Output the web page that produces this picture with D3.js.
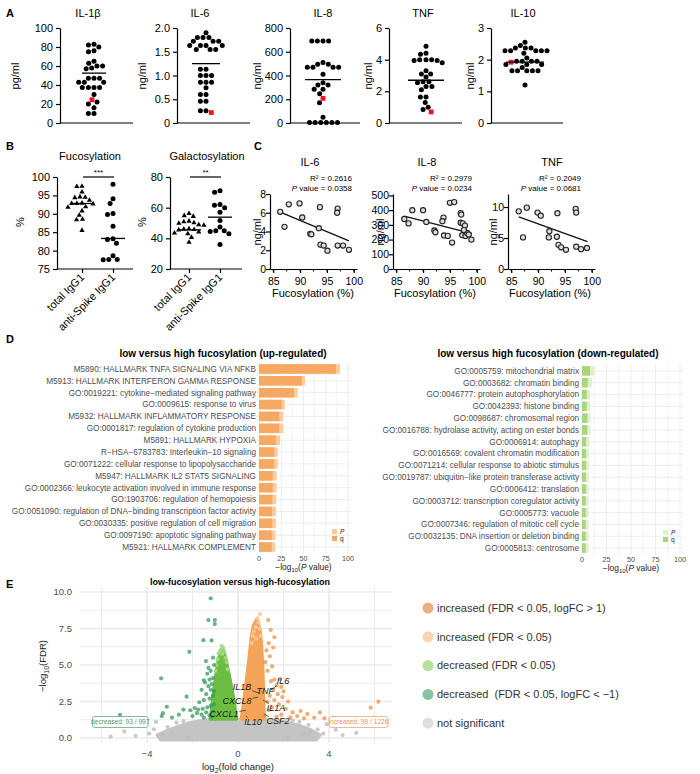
<!DOCTYPE html>
<html><head><meta charset="utf-8">
<script src="https://cdn.jsdelivr.net/npm/d3@7"></script>
<style>
body{margin:0;background:#fff}
svg{font-family:"Liberation Sans",Arial,sans-serif}
.pre{white-space:pre}
</style>
</head><body>
<svg id="c" width="700" height="774"></svg>
<script>
// ---------------- Panel A data ----------------
const aTitles = ["IL-1β","IL-6","IL-8","TNF","IL-10"];
const aUnits = ["pg/ml","ng/ml","ng/ml","ng/ml","ng/ml"];
const aMax = [100,2,800,6,3];
const aTicks = [[0,20,40,60,80,100],[0,0.5,1,1.5,2],[0,200,400,600,800],[0,2,4,6],[0,1,2,3]];
const aTickLabels = [["0","20","40","60","80","100"],["0","0.5","1.0","1.5","2.0"],["0","200","400","600","800"],["0","2","4","6"],["0","1","2","3"]];
const il1b = [83,82,80,76,75,65,63,60,60,58,57,47,47,47,43,43,43,37.5,37.5,37.5,37.5,30,22,20,16,10,10];
const il6 = [1.9,1.8,1.8,1.8,1.72,1.72,1.72,1.63,1.63,1.63,1.63,1.55,1.55,1.55,1.13,1.13,1.0,1.0,1.0,0.86,0.86,0.86,0.74,0.6,0.6,0.46,0.46,0.26,0.26];
const il8 = [690,690,690,690,510,495,495,470,470,470,470,410,340,320,320,285,285,247,170,48,5,5,5,5,5,5];
const tnf = [4.85,4.4,4.35,4.0,4.0,4.0,3.95,3.95,3.8,3.3,3.1,3.1,2.9,2.6,2.6,2.55,2.3,2.3,2.1,1.65,1.65,1.3,1.0,0.85];
const il10 = [2.55,2.45,2.37,2.37,2.37,2.28,2.28,2.28,2.28,2.28,2.2,2.05,1.95,1.95,1.95,1.95,1.85,1.85,1.85,1.75,1.65,1.65,1.65,1.65,1.65,1.2];
const aValues = [il1b, il6, il8, tnf, il10];
const aMeans = [52.5,1.25,365,2.7,1.92];
const aRed = [24.5,0.22,207,0.7,1.92];

// ---------------- Panel B data ----------------
const bTitles = ["Fucosylation","Galactosylation"];
const bGroups = ["total IgG1","anti-Spike IgG1"];
const bDomains = [[75,100],[20,80]];
const bTicks = [[75,80,85,90,95,100],[20,40,60,80]];
const bFucTotal = [97.5,97.4,95.9,94.6,94.5,94.4,93.7,92.8,92.8,92.7,92.9,91.9,91.8,90.8,89.6,88.5,88.4,85.5];
const bFucSpike = [98,94.1,92.8,90.1,89.8,86.6,83.2,83.0,82.0,78.6,77.5,77.6,77.6];
const bGalTotal = [56.2,54.8,54.3,51.2,50.8,50.2,49.8,48.8,48.5,46.3,46.0,45.8,45.5,44.2,43.5,43.0,40.6,37.4];
const bGalSpike = [71,70,62,61.5,60,57,51.7,47.4,45,45,44.5,43,36];
const bLines = [[92.8,83.3],[45.5,53.8]];
const bSig = ["***","**"];

// ---------------- Panel C data ----------------
const cTitles = ["IL-6","IL-8","TNF"];
const cR2 = ["0.2616","0.2979","0.2049"];
const cP = ["0.0358","0.0234","0.0681"];
const cYMax = [8,510,12.1];
const cYTicks = [[0,2,4,6,8],[0,100,200,300,400,500],[0,5,10]];
const cXTicks = [85,90,95,100];
const cIL6 = [[86.3,6.1],[87.1,4.5],[87.9,6.9],[89.9,7.0],[90.4,5.5],[91.9,3.75],[92.1,3.7],[93.7,6.6],[93.5,4.35],[93.8,2.6],[94.4,2.5],[95.1,1.95],[97.0,6.45],[96.9,6.0],[97.0,2.5],[98.0,2.5],[99.1,2.05]];
const cIL8 = [[86.5,340],[87.3,310],[88.0,400],[90.0,400],[90.6,320],[92.1,262],[92.3,250],[93.8,350],[93.6,325],[93.9,228],[94.6,225],[95.0,450],[95.8,455],[95.4,180],[97.0,380],[97.1,370],[97.0,315],[97.4,310],[97.3,230],[97.8,295],[97.9,225],[98.2,245],[98.5,235],[99.0,200],[97.6,265]];
const cTNF = [[86.4,9.3],[87.2,5.1],[87.9,9.9],[89.9,9.1],[90.5,8.6],[92.1,6.1],[92.0,5.1],[93.6,9.0],[93.5,5.2],[93.8,3.9],[94.3,3.5],[95.2,3.1],[97.0,9.7],[97.1,9.1],[97.1,3.6],[98.0,3.2],[99.1,3.4]];
const cData = [cIL6, cIL8, cTNF];
const cLines = [[[86.2,6.1],[99.1,3.0]],[[86.5,360],[99.1,240]],[[86.4,8.4],[99.2,4.4]]];

// ---------------- Panel D data ----------------
const dTitles = ["low versus high fucosylation (up-regulated)","low versus high fucosylation (down-regulated)"];
const dUpTerms = ["M5890: HALLMARK TNFA SIGNALING VIA NFKB","M5913: HALLMARK INTERFERON GAMMA RESPONSE","GO:0019221: cytokine−mediated signaling pathway","GO:0009615: response to virus","M5932: HALLMARK INFLAMMATORY RESPONSE","GO:0001817: regulation of cytokine production","M5891: HALLMARK HYPOXIA","R−HSA−6783783: Interleukin−10 signaling","GO:0071222: cellular response to lipopolysaccharide","M5947: HALLMARK IL2 STAT5 SIGNALING","GO:0002366: leukocyte activation involved in immune response","GO:1903706: regulation of hemopoiesis","GO:0051090: regulation of DNA−binding transcription factor activity","GO:0030335: positive regulation of cell migration","GO:0097190: apoptotic signaling pathway","M5921: HALLMARK COMPLEMENT"];
const dUpP = [91,51.7,43.5,29,27.3,27.3,23.6,21,21,19.8,19.8,19.4,19,19,18.5,18.3];
const dUpQ = [86.5,48,39.3,25.5,22.8,22.8,19,16.9,17,15.3,15.3,15,14.8,14.8,14.4,14.4];
const dDownTerms = ["GO:0005759: mitochondrial matrix","GO:0003682: chromatin binding","GO:0046777: protein autophosphorylation","GO:0042393: histone binding","GO:0098687: chromosomal region","GO:0016788: hydrolase activity, acting on ester bonds","GO:0006914: autophagy","GO:0016569: covalent chromatin modification","GO:0071214: cellular response to abiotic stimulus","GO:0019787: ubiquitin−like protein transferase activity","GO:0006412: translation","GO:0003712: transcription coregulator activity","GO:0005773: vacuole","GO:0007346: regulation of mitotic cell cycle","GO:0032135: DNA insertion or deletion binding","GO:0005813: centrosome"];
const dDownP = [13,9.9,8.2,8.2,8.8,8.8,7.5,7,7,7,7,6.8,6.8,6.8,6.8,6.8];
const dDownQ = [8.2,5.8,4.8,4.8,5.4,5.4,4.1,4,4,4,4,3.8,3.8,3.8,3.8,3.8];
const dXTicks = [0,25,50,75,100];
const dLegend = ["P","q"];

// ---------------- Panel E data ----------------
const eTitle = "low-fucosylation versus high-fucosylation";
const eXTicks = [-4,0,4];
const eYTicks = [0,2.5,5,7.5,10];
const eYTickLabels = ["0.0","2.5","5.0","7.5","10.0"];
const eGreyCloud = [[-3.4,-0.12],[-3.55,0.2],[-3.1,0.5],[-2.6,0.8],[-2.1,1.05],[-1.5,1.22],[-0.1,1.3],[0,0.35],[0.1,1.3],[1.5,1.26],[2.1,1.1],[2.7,0.85],[3.2,0.55],[3.6,0.2],[3.45,-0.12]];
const eGreenCloud = [[-1.22,1.3],[-1.12,2.5],[-1.05,3.4],[-0.95,4.5],[-0.85,5.4],[-0.75,6.0],[-0.68,6.1],[-0.57,5.6],[-0.43,4.6],[-0.3,3.6],[-0.18,2.6],[-0.07,1.3]];
const eOrangeCloud = [[0.15,1.3],[0.28,2.8],[0.4,4.3],[0.5,5.6],[0.58,6.8],[0.68,7.7],[0.82,8.1],[0.95,7.5],[1.02,6.6],[1.08,5.0],[1.12,3.0],[1.15,1.3]];
const eGrey = [[-4.16,0.94],[-3.7,0.6],[-3.9,0.3],[-4.5,0.15],[-5.0,0.45],[-3.3,0.2],[-3.1,0.75],[-2.7,1.05],[-2.4,1.15],[3.1,0.9],[3.16,0.43],[3.5,0.6],[3.75,0.3],[4.3,0.55],[4.6,0.2],[3.9,0.95],[2.7,1.1],[-5.6,0.1],[5.2,0.35],[-3.6,1.1],[2.4,1.2],[-2.2,0.05],[2.2,0.05],[-2.9,0.35],[2.9,0.3]];
const eDarkGreen = [[-1.2,9.57],[-1.3,8.08],[-1.02,8.08],[-1.02,7.8],[-1.52,6.7],[-1.16,6.68],[-2.14,5.9],[-3.38,4.09],[-1.41,5.27],[-1.35,4.4],[-1.25,4.0],[-1.1,4.1],[-1.5,3.95],[-1.45,3.8],[-1.15,3.7],[-1.3,3.55],[-1.2,3.3],[-1.05,3.2],[-1.4,3.0],[-1.6,3.3],[-1.1,2.9],[-1.25,2.7],[-1.5,2.6],[-1.7,2.45],[-2.26,2.83],[-3.13,2.14],[-3.3,1.7],[-3.35,1.5],[-5.19,1.58],[-2.4,1.95],[-2.1,1.9],[-1.9,2.05],[-1.75,1.95],[-1.55,2.0],[-1.35,2.1],[-1.2,2.2],[-1.05,2.3],[-1.8,1.7],[-1.6,1.6],[-1.4,1.75],[-1.25,1.55],[-1.1,1.8],[-2.6,1.6],[-2.0,1.5],[-1.5,1.4],[-1.15,1.45],[-2.9,1.4],[-1.05,5.0],[-1.1,5.5],[-1.3,4.8],[-1.2,4.6]];
const eLightGreen = [[-0.72,6.3],[-0.65,6.15],[-0.78,6.0],[-0.6,5.9],[-0.85,5.8],[-0.7,5.75],[-0.55,5.5],[-0.9,5.4],[-0.5,5.2],[-0.95,5.0],[-0.98,4.6],[-0.45,4.7]];
const eLightOrange = [[0.97,8.49],[0.85,8.2],[0.9,7.9],[0.78,7.6],[0.95,7.5],[0.7,7.3],[1.0,7.0],[0.65,7.0],[0.8,6.8],[0.6,6.5]];
const eDarkOrange = [[1.33,8.08],[1.44,7.4],[1.6,6.9],[1.35,6.5],[1.55,6.2],[1.25,6.0],[1.4,5.6],[1.2,5.2],[1.5,4.9],[1.3,4.6],[1.85,4.04],[1.6,4.0],[1.45,3.9],[1.7,3.6],[1.9,3.5],[1.55,3.3],[2.0,3.2],[1.75,3.0],[1.4,2.9],[1.95,2.8],[1.6,2.6],[1.3,2.5],[2.2,2.5],[1.8,2.3],[1.5,2.1],[2.1,2.0],[1.35,1.9],[2.4,1.75],[2.75,1.85],[3.05,1.65],[3.6,1.75],[3.35,1.4],[2.6,1.5],[2.9,1.35],[1.9,1.6],[1.15,1.5],[1.7,1.45],[2.3,1.4],[6.17,2.49],[5.83,2.08],[3.8,1.35],[4.2,1.4]];
const eGenes = ["IL1B","TNF","IL6","CXCL8","IL1A","CXCL1","IL10","CSF2"];
const eGenePoint = [[0.95,3.05],[1.0,3.0],[1.45,3.3],[0.88,2.8],[1.1,2.6],[0.35,1.9],[0.35,1.5],[1.14,1.64]];
const eGeneLabel = [[0.18,3.5],[1.2,3.2],[1.98,3.9],[-0.04,2.53],[1.67,2.05],[-0.62,1.64],[0.66,1.1],[1.76,1.16]];
const eCounts = ["decreased: 93 / 997","increased: 99 / 1226"];
const eLegend = ["increased (FDR < 0.05, logFC > 1)","increased (FDR < 0.05)","decreased (FDR < 0.05)","decreased  (FDR < 0.05, logFC < −1)","not significant"];
const eLegendColors = ["#efae82","#f9d4b1","#b8df9c","#86c3a0","#dedede"];

// ================= drawing =================
const svg = d3.select("#c");
svg.append("rect").attr("width",700).attr("height",774).attr("fill","#fff");

function letter(t,x,y){svg.append("text").attr("x",x).attr("y",y).attr("font-size",11).attr("font-weight","bold").text(t);}
letter("A",6,17); letter("B",6,150); letter("C",254,150); letter("D",6,343); letter("E",6,588);

// tight beeswarm layout
function swarm(items, yfn, cx, sep){
  const placed=[]; const order=items.map((d,i)=>i).sort((a,b)=>items[b].v-items[a].v);
  for(const i of order){
    const py=yfn(items[i].v);
    const iv=placed.filter(p=>Math.abs(p.y-py)<sep).map(p=>{const w=Math.sqrt(sep*sep-(p.y-py)**2);return [p.x-w,p.x+w];});
    const cands=[cx].concat(iv.flatMap(d=>d));
    let best=null;
    cands.forEach(c=>{
      if(iv.every(d=>c<=d[0]+1e-6||c>=d[1]-1e-6)){ if(best===null||Math.abs(c-cx)<Math.abs(best-cx)) best=c; }
    });
    items[i].x=best; items[i].y=py; placed.push({x:best,y:py});
  }
  return items;
}
function styleAxis(g,fs){
  g.selectAll(".domain").attr("stroke","#000").attr("stroke-width",1.2);
  g.selectAll(".tick line").attr("stroke","#000").attr("stroke-width",1.2);
  g.selectAll(".tick text").attr("font-size",fs).attr("fill","#000").attr("font-family","Liberation Sans, Arial, sans-serif");
}

// ---- Panel A
const aL = {axisX:[60,177,290,389,491],center:[94,206,323,426,525],xEnd:[133,250,360,462,563],titleX:[88,200,323,423,523],unitX:[15,142,257,368,470],meanHalf:[12,14,18,18,19]};
aTitles.forEach((t,p)=>{
  const y=d3.scaleLinear().domain([0,aMax[p]]).range([123,28]);
  const g=svg.append("g").attr("transform",`translate(${aL.axisX[p]},0)`)
    .call(d3.axisLeft(y).tickValues(aTicks[p]).tickFormat((d,i)=>aTickLabels[p][i]).tickSize(4).tickSizeOuter(0));
  styleAxis(g,11);
  svg.append("line").attr("x1",aL.axisX[p]).attr("x2",aL.xEnd[p]).attr("y1",123).attr("y2",123).attr("stroke","#000").attr("stroke-width",1.2);
  svg.append("text").attr("x",aL.titleX[p]).attr("y",17).attr("text-anchor","middle").attr("font-size",11).text(t);
  svg.append("text").attr("transform",`translate(${aL.unitX[p]},76) rotate(-90)`).attr("text-anchor","middle").attr("dominant-baseline","central").attr("font-size",11).text(aUnits[p]);
  const items=aValues[p].map(v=>({v,red:false})).concat([{v:aRed[p],red:true}]);
  swarm(items,y,aL.center[p],5.6);
  svg.append("g").selectAll("circle").data(items.filter(d=>!d.red)).join("circle")
    .attr("cx",d=>d.x).attr("cy",d=>d.y).attr("r",2.5).attr("fill","#000");
  svg.append("g").selectAll("rect").data(items.filter(d=>d.red)).join("rect")
    .attr("x",d=>d.x-2.4).attr("y",d=>d.y-2.4).attr("width",4.8).attr("height",4.8).attr("fill","#f0141e");
  svg.append("line").attr("x1",aL.center[p]-aL.meanHalf[p]).attr("x2",aL.center[p]+aL.meanHalf[p])
    .attr("y1",y(aMeans[p])).attr("y2",y(aMeans[p])).attr("stroke","#000").attr("stroke-width",1.3);
});

// ---- Panel B
const bL = {axisX:[57,170],xEnd:[133,242],tick:[[82,113],[189,220]],titleX:[90,207],unitX:[20,142]};
const bData=[[bFucTotal,bFucSpike],[bGalTotal,bGalSpike]];
bTitles.forEach((t,p)=>{
  const y=d3.scaleLinear().domain(bDomains[p]).range([269,177]);
  const g=svg.append("g").attr("transform",`translate(${bL.axisX[p]},0)`)
    .call(d3.axisLeft(y).tickValues(bTicks[p]).tickSize(4).tickSizeOuter(0));
  styleAxis(g,11);
  const xg=svg.append("g").attr("transform","translate(0,269)")
    .call(d3.axisBottom(d3.scaleOrdinal().domain(bGroups).range(bL.tick[p])).tickSize(4).tickFormat(""));
  svg.append("line").attr("x1",bL.axisX[p]).attr("x2",bL.xEnd[p]).attr("y1",269).attr("y2",269).attr("stroke","#000").attr("stroke-width",1.2);
  xg.selectAll(".domain").remove(); styleAxis(xg,11);
  bGroups.forEach((gname,k)=>{
    svg.append("text").attr("transform",`translate(${bL.tick[p][k]+3},278) rotate(-45)`).attr("text-anchor","end").attr("font-size",11).text(gname);
  });
  svg.append("text").attr("x",bL.titleX[p]).attr("y",160).attr("text-anchor","middle").attr("font-size",11).text(t);
  svg.append("text").attr("transform",`translate(${bL.unitX[p]},222) rotate(-90)`).attr("text-anchor","middle").attr("dominant-baseline","central").attr("font-size",11).text("%");
  svg.append("line").attr("x1",bL.tick[p][0]+1).attr("x2",bL.tick[p][1]+1).attr("y1",177).attr("y2",177).attr("stroke","#000").attr("stroke-width",1.2);
  svg.append("text").attr("x",(bL.tick[p][0]+bL.tick[p][1])/2+1).attr("y",175).attr("text-anchor","middle").attr("font-size",8).text(bSig[p]);
  const tri=swarm(bData[p][0].map(v=>({v})),y,bL.tick[p][0],5.2);
  svg.append("g").selectAll("path").data(tri).join("path")
    .attr("d",d3.symbol(d3.symbolTriangle,12)).attr("transform",d=>`translate(${d.x},${d.y})`).attr("fill","#000");
  const cir=swarm(bData[p][1].map(v=>({v})),y,bL.tick[p][1],5.6);
  svg.append("g").selectAll("circle").data(cir).join("circle").attr("cx",d=>d.x).attr("cy",d=>d.y).attr("r",2.5).attr("fill","#000");
  bLines[p].forEach((m,k)=>{
    svg.append("line").attr("x1",bL.tick[p][k]-12).attr("x2",bL.tick[p][k]+12).attr("y1",y(m)).attr("y2",y(m)).attr("stroke","#000").attr("stroke-width",1.3);
  });
});

// ---- Panel C
const cL = {axisX:[270,393,508],titleX:[310,427,552],statX:[352,472,581],unitX:[257,380,493],xTitleX:[313,435,550]};
cTitles.forEach((t,p)=>{
  const x=d3.scaleLinear().domain([84.4,100.6]).range([cL.axisX[p],cL.axisX[p]+87]);
  const y=d3.scaleLinear().domain([0,cYMax[p]]).range([269,194]);
  const gy=svg.append("g").attr("transform",`translate(${cL.axisX[p]},0)`)
    .call(d3.axisLeft(y).tickValues(cYTicks[p]).tickSize(4).tickSizeOuter(0));
  styleAxis(gy,10.5);
  gy.selectAll(".tick text").attr("x",-4);
  const gx=svg.append("g").attr("transform","translate(0,269)")
    .call(d3.axisBottom(x).tickValues(cXTicks).tickSize(4).tickSizeOuter(0));
  styleAxis(gx,10.5);
  gx.selectAll(".tick text").attr("dy","0.9em");
  svg.append("g").selectAll("line").data(d3.range(85,101,2.5)).join("line")
    .attr("x1",d=>x(d)).attr("x2",d=>x(d)).attr("y1",269).attr("y2",271.5).attr("stroke","#000").attr("stroke-width",1);
  svg.append("text").attr("x",cL.titleX[p]).attr("y",166).attr("text-anchor","middle").attr("font-size",11).text(t);
  svg.append("text").attr("x",cL.statX[p]).attr("y",181).attr("text-anchor","end").attr("font-size",8).text(`R² = ${cR2[p]}`);
  const pt=svg.append("text").attr("x",cL.statX[p]).attr("y",191).attr("text-anchor","end").attr("font-size",8);
  pt.append("tspan").attr("font-style","italic").text("P");
  pt.append("tspan").text(` value = ${cP[p]}`);
  svg.append("text").attr("transform",`translate(${cL.unitX[p]},232) rotate(-90)`).attr("text-anchor","middle").attr("dominant-baseline","central").attr("font-size",11).text("ng/ml");
  svg.append("text").attr("x",cL.xTitleX[p]).attr("y",297).attr("text-anchor","middle").attr("font-size",11).text("Fucosylation (%)");
  const ln=cLines[p];
  svg.append("line").attr("x1",x(ln[0][0])).attr("y1",y(ln[0][1])).attr("x2",x(ln[1][0])).attr("y2",y(ln[1][1])).attr("stroke","#111").attr("stroke-width",1.3);
  svg.append("g").selectAll("circle").data(cData[p]).join("circle")
    .attr("cx",d=>x(d[0])).attr("cy",d=>y(d[1])).attr("r",2.6).attr("fill","#ddd").attr("stroke","#222").attr("stroke-width",1.1);
});

// ---- Panel D
function enrich(terms,P,Q,opts){
  const x=d3.scaleLinear().domain([0,100]).range([opts.x0,opts.x1]);
  const yb=d3.scaleBand().domain(terms).range([opts.y0,opts.y1]).paddingInner(0.2).paddingOuter(0.1);
  const g=svg.append("g");
  const gx0=opts.x0-3, gx1=opts.x1+3;
  d3.range(0,101,12.5).forEach(v=>{
    g.append("line").attr("x1",x(v)).attr("x2",x(v)).attr("y1",opts.y0-1).attr("y2",opts.y1+1)
      .attr("stroke","#ebebeb").attr("stroke-width",v%25===0?0.9:0.6);
  });
  terms.forEach(t=>{
    g.append("line").attr("x1",gx0).attr("x2",gx1).attr("y1",yb(t)+yb.bandwidth()/2).attr("y2",yb(t)+yb.bandwidth()/2)
      .attr("stroke","#ebebeb").attr("stroke-width",0.9);
  });
  g.selectAll(".pb").data(terms).join("rect").attr("class","pb")
    .attr("x",x(0)).attr("y",t=>yb(t)).attr("height",yb.bandwidth()).attr("width",(t,i)=>x(P[i])-x(0)).attr("fill",opts.cP);
  g.selectAll(".qb").data(terms).join("rect").attr("class","qb")
    .attr("x",x(0)).attr("y",t=>yb(t)).attr("height",yb.bandwidth()).attr("width",(t,i)=>x(Q[i])-x(0)).attr("fill",opts.cQ);
  g.selectAll(".lab").data(terms).join("text").attr("class","lab")
    .attr("x",opts.x0-3).attr("y",t=>yb(t)+yb.bandwidth()/2).attr("dy","0.35em").attr("text-anchor","end")
    .attr("font-size",8.2).attr("fill","#4d4d4d").text(t=>t);
  g.selectAll(".xt").data(dXTicks).join("text").attr("class","xt")
    .attr("x",d=>x(d)).attr("y",opts.y1+8).attr("text-anchor","middle").attr("font-size",7.2).attr("fill","#4d4d4d").text(d=>d);
  const xt=g.append("text").attr("x",x(50)).attr("y",opts.y1+17).attr("text-anchor","middle").attr("font-size",8.4).attr("fill","#222");
  xt.append("tspan").text("−log");
  xt.append("tspan").attr("font-size",6).attr("dy",2).text("10");
  xt.append("tspan").attr("dy",-2).text("(");
  xt.append("tspan").attr("font-style","italic").text("P");
  xt.append("tspan").text(" value)");
  g.append("text").attr("x",opts.titleX).attr("y",357).attr("text-anchor","middle").attr("font-size",10).attr("font-weight","bold").text(opts.title);
  dLegend.forEach((l,i)=>{
    g.append("rect").attr("x",opts.legX).attr("y",opts.legY+i*7).attr("width",5).attr("height",5).attr("fill",i===0?opts.cP:opts.cQ);
    g.append("text").attr("x",opts.legX+8).attr("y",opts.legY+i*7+4.5).attr("font-size",6.5).attr("fill","#222").attr("font-style",i===0?"italic":"normal").text(l);
  });
}
enrich(dUpTerms,dUpP,dUpQ,{x0:259,x1:348,y0:363,y1:553,cP:"#fbcb9b",cQ:"#f7a862",title:dTitles[0],titleX:223,legX:332,legY:529});
enrich(dDownTerms,dDownP,dDownQ,{x0:582,x1:680,y0:365,y1:554,cP:"#dff0cf",cQ:"#a9d57f",title:dTitles[1],titleX:548,legX:663,legY:530});

// ---- Panel E
const ex=d3.scaleLinear().domain([-4,4]).range([147,329]);
const ey=d3.scaleLinear().domain([0,10]).range([738,592]);
const eg=svg.append("g");
[-6,-4,-2,0,2,4,6].forEach(v=>{
  eg.append("line").attr("x1",ex(v)).attr("x2",ex(v)).attr("y1",587).attr("y2",743).attr("stroke","#ebebeb").attr("stroke-width",v%4===0?1.7:1.1);
});
d3.range(0,10.01,1.25).forEach(v=>{
  eg.append("line").attr("x1",80).attr("x2",392).attr("y1",ey(v)).attr("y2",ey(v)).attr("stroke","#ebebeb").attr("stroke-width",(v%2.5===0)?1.7:1.1);
});
const poly=d3.line().x(d=>ex(d[0])).y(d=>ey(d[1])).curve(d3.curveLinearClosed);
eg.append("path").attr("d",poly(eGreyCloud)).attr("fill","#c4c4c4").attr("stroke","#c4c4c4").attr("stroke-width",3.5).attr("stroke-linejoin","round");
function pts(data,fill,op,r){
  eg.append("g").selectAll("circle").data(data).join("circle").attr("cx",d=>ex(d[0])).attr("cy",d=>ey(d[1])).attr("r",r||2.1).attr("fill",fill).attr("opacity",op);
}
pts(eGrey,"#bdbdbd",0.8);
eg.append("path").attr("d",poly(eGreenCloud)).attr("fill","#6cbd42").attr("stroke","#6cbd42").attr("stroke-width",3.5).attr("stroke-linejoin","round");
eg.append("path").attr("d",poly(eOrangeCloud)).attr("fill","#f4a458").attr("stroke","#f4a458").attr("stroke-width",3.5).attr("stroke-linejoin","round");
pts(eLightGreen,"#a6d884",0.9);
pts(eLightOrange,"#f8c896",0.9);
pts(eDarkGreen,"#2f955a",0.72);
pts(eDarkOrange,"#ef9446",0.78);
eGenes.forEach((gn,i)=>{
  const px=ex(eGenePoint[i][0]), py=ey(eGenePoint[i][1]);
  const cx=ex(eGeneLabel[i][0]), cy=ey(eGeneLabel[i][1]);
  const t=eg.append("text").attr("x",cx).attr("y",cy).attr("dy","0.35em").attr("text-anchor","middle").attr("font-size",9).attr("font-style","italic").attr("fill","#1a1a1a").text(gn);
  const bb=t.node().getBBox();
  const dx=px-cx, dy=py-cy;
  const tx=dx===0?Infinity:(bb.width/2+1)/Math.abs(dx), ty=dy===0?Infinity:(bb.height/2-0.5)/Math.abs(dy);
  const tt=Math.min(tx,ty);
  if(tt<1){
    eg.append("line").attr("x1",cx+dx*tt).attr("y1",cy+dy*tt).attr("x2",px).attr("y2",py).attr("stroke","#333").attr("stroke-width",0.8);
  }
});
[[ex(-6.4),ex(-3.95),"#6aa583","#4f9a70"],[ex(4),ex(6.6),"#eaa57a","#e8945e"]].forEach((b,i)=>{
  eg.append("rect").attr("x",b[0]).attr("y",716.5).attr("width",b[1]-b[0]).attr("height",11).attr("rx",2.5).attr("fill","#fff").attr("stroke",b[2]).attr("stroke-width",0.8);
  eg.append("text").attr("x",(b[0]+b[1])/2).attr("y",722).attr("dy","0.35em").attr("text-anchor","middle").attr("font-size",6.6).attr("fill",b[3]).text(eCounts[i]);
});
eg.selectAll(".ey").data(eYTicks).join("text").attr("class","ey").attr("x",72).attr("y",d=>ey(d)).attr("dy","0.35em").attr("text-anchor","end").attr("font-size",9.5).attr("fill","#4d4d4d").text((d,i)=>eYTickLabels[i]);
eg.selectAll(".ex").data(eXTicks).join("text").attr("class","ex").attr("x",d=>ex(d)).attr("y",757).attr("text-anchor","middle").attr("font-size",9.5).attr("fill","#4d4d4d").text(d=>d===0?"0":(d<0?"−"+(-d):d));
const xtE=eg.append("text").attr("x",238).attr("y",770).attr("text-anchor","middle").attr("font-size",9.5).attr("fill","#222");
xtE.append("tspan").text("log"); xtE.append("tspan").attr("font-size",7).attr("dy",2.5).text("2"); xtE.append("tspan").attr("dy",-2.5).text("(fold change)");
const ytE=eg.append("text").attr("transform","translate(46,666) rotate(-90)").attr("text-anchor","middle").attr("font-size",9.5).attr("fill","#222");
ytE.append("tspan").text("−log"); ytE.append("tspan").attr("font-size",7).attr("dy",2.5).text("10"); ytE.append("tspan").attr("dy",-2.5).text("(FDR)");
eg.append("text").attr("x",240).attr("y",585).attr("text-anchor","middle").attr("font-size",9).attr("font-weight","bold").text(eTitle);
eLegend.forEach((l,i)=>{
  const yy=608+i*28.8;
  eg.append("circle").attr("cx",428).attr("cy",yy).attr("r",5.5).attr("fill",eLegendColors[i]);
  eg.append("text").attr("class","pre").attr("x",437).attr("y",yy).attr("dy","0.35em").attr("font-size",11).attr("fill","#333").text(l);
});
</script>
</body></html>
